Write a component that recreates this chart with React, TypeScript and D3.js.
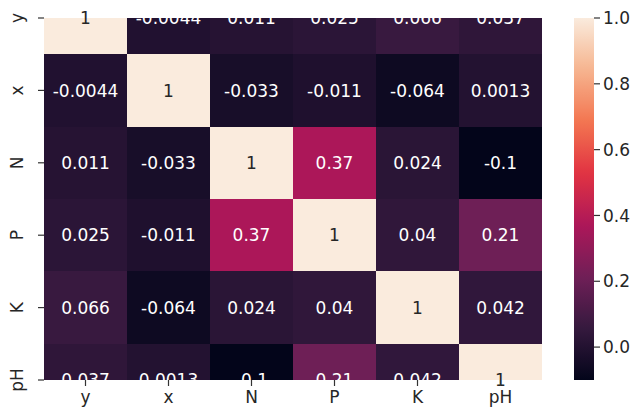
import React, { useEffect, useRef } from 'react'
import * as d3 from 'd3'

// correlation matrix, row by row
const labels = ['y', 'x', 'N', 'P', 'K', 'pH']
const rowY = [1, -0.0044, 0.011, 0.025, 0.066, 0.037]
const rowX = [-0.0044, 1, -0.033, -0.011, -0.064, 0.0013]
const rowN = [0.011, -0.033, 1, 0.37, 0.024, -0.1]
const rowP = [0.025, -0.011, 0.37, 1, 0.04, 0.21]
const rowK = [0.066, -0.064, 0.024, 0.04, 1, 0.042]
const rowPH = [0.037, 0.0013, -0.1, 0.21, 0.042, 1]
const rows = [rowY, rowX, rowN, rowP, rowK, rowPH]

const cbarTicks = [0, 0.2, 0.4, 0.6, 0.8, 1.0]

// seaborn "rocket" stops
const rocket = ['#03051a', '#35193e', '#701f57', '#ad1759', '#e13342', '#f37651', '#f6b48f', '#faebdd']

export default function App() {
  const ref = useRef<SVGSVGElement>(null)

  useEffect(() => {
    const svg = d3.select(ref.current)
    svg.selectAll('*').remove()

    const font = '"DejaVu Sans", sans-serif'
    const fs = 17
    const left = 44, right = 542, top = 18, bottom = 380

    const vmin = d3.min(rows.flat()) as number
    const vmax = d3.max(rows.flat()) as number

    const color = d3.scaleLinear<string>()
      .domain(rocket.map((_, i) => vmin + (vmax - vmin) * i / (rocket.length - 1)))
      .range(rocket)
      .interpolate(d3.interpolateRgb)

    const x = d3.scaleBand().domain(labels).range([left, right])
    // first & last rows are cut in half (old matplotlib heatmap bug)
    const y = d3.scaleLinear().domain([0, labels.length - 1]).range([top, bottom])

    svg.append('clipPath').attr('id', 'plotclip')
      .append('rect')
      .attr('x', left).attr('y', top)
      .attr('width', right - left).attr('height', bottom - top)

    const cells: { r: number; c: number; v: number }[] = []
    rows.forEach((row, r) => row.forEach((v, c) => cells.push({ r, c, v })))

    svg.append('g').attr('clip-path', 'url(#plotclip)')
      .selectAll('rect')
      .data(cells)
      .enter().append('rect')
      .attr('x', d => x(labels[d.c]) as number)
      .attr('y', d => y(d.r - 0.5))
      .attr('width', x.bandwidth())
      .attr('height', y(1) - y(0))
      .attr('fill', d => color(d.v))
      .attr('shape-rendering', 'crispEdges')

    const isLight = (v: number) => d3.hsl(color(v)).l > 0.6

    // white annotations: outside the axes they vanish on the white page anyway
    svg.append('g').attr('clip-path', 'url(#plotclip)')
      .selectAll('text')
      .data(cells.filter(d => !isLight(d.v)))
      .enter().append('text')
      .attr('x', d => (x(labels[d.c]) as number) + x.bandwidth() / 2)
      .attr('y', d => y(d.r))
      .attr('dy', '0.36em')
      .attr('text-anchor', 'middle')
      .style('font-family', font)
      .style('font-size', fs + 'px')
      .attr('fill', '#ffffff')
      .text(d => String(d.v))

    // dark annotations, not clipped
    svg.append('g')
      .selectAll('text')
      .data(cells.filter(d => isLight(d.v)))
      .enter().append('text')
      .attr('x', d => (x(labels[d.c]) as number) + x.bandwidth() / 2)
      .attr('y', d => y(d.r))
      .attr('dy', '0.36em')
      .attr('text-anchor', 'middle')
      .style('font-family', font)
      .style('font-size', fs + 'px')
      .attr('fill', '#262626')
      .text(d => String(d.v))

    // x axis ticks
    const xa = svg.append('g')
    labels.forEach(l => {
      const cx = (x(l) as number) + x.bandwidth() / 2
      xa.append('line').attr('x1', cx).attr('x2', cx).attr('y1', bottom).attr('y2', bottom + 6)
        .attr('stroke', '#333').attr('stroke-width', 1.2)
      xa.append('text').attr('x', cx).attr('y', bottom + 9).attr('dy', '0.8em')
        .attr('text-anchor', 'middle').style('font-family', font).style('font-size', fs + 'px')
        .attr('fill', '#262626').text(l)
    })

    // y axis ticks (rotated labels)
    const ya = svg.append('g')
    labels.forEach((l, i) => {
      const cy = y(i)
      ya.append('line').attr('x1', left - 6).attr('x2', left).attr('y1', cy).attr('y2', cy)
        .attr('stroke', '#333').attr('stroke-width', 1.2)
      ya.append('text').attr('transform', 'translate(' + (left - 27) + ',' + cy + ') rotate(-90)')
        .attr('dy', '0.36em')
        .attr('text-anchor', 'middle').style('font-family', font).style('font-size', fs + 'px')
        .attr('fill', '#262626').text(l)
    })

    // colorbar
    const cbL = 574, cbR = 594
    const cy = d3.scaleLinear().domain([vmin, vmax]).range([bottom, top])
    const grad = svg.append('defs').append('linearGradient')
      .attr('id', 'cbgrad').attr('x1', 0).attr('x2', 0).attr('y1', 1).attr('y2', 0)
    d3.range(0, 1.0001, 0.02).forEach(t => {
      grad.append('stop').attr('offset', t).attr('stop-color', color(vmin + t * (vmax - vmin)))
    })
    svg.append('rect').attr('x', cbL).attr('y', top).attr('width', cbR - cbL)
      .attr('height', bottom - top).attr('fill', 'url(#cbgrad)')

    const ca = svg.append('g')
    cbarTicks.forEach(t => {
      ca.append('line').attr('x1', cbR).attr('x2', cbR + 6).attr('y1', cy(t)).attr('y2', cy(t))
        .attr('stroke', '#333').attr('stroke-width', 1.2)
      ca.append('text').attr('x', cbR + 9).attr('y', cy(t)).attr('dy', '0.36em')
        .style('font-family', font).style('font-size', fs + 'px')
        .attr('fill', '#262626').text(t.toFixed(1))
    })
  }, [])

  return (
    <svg ref={ref} width={636} height={411}
      style={{ position: 'absolute', left: 0, top: 0, background: '#fff' }} />
  )
}
